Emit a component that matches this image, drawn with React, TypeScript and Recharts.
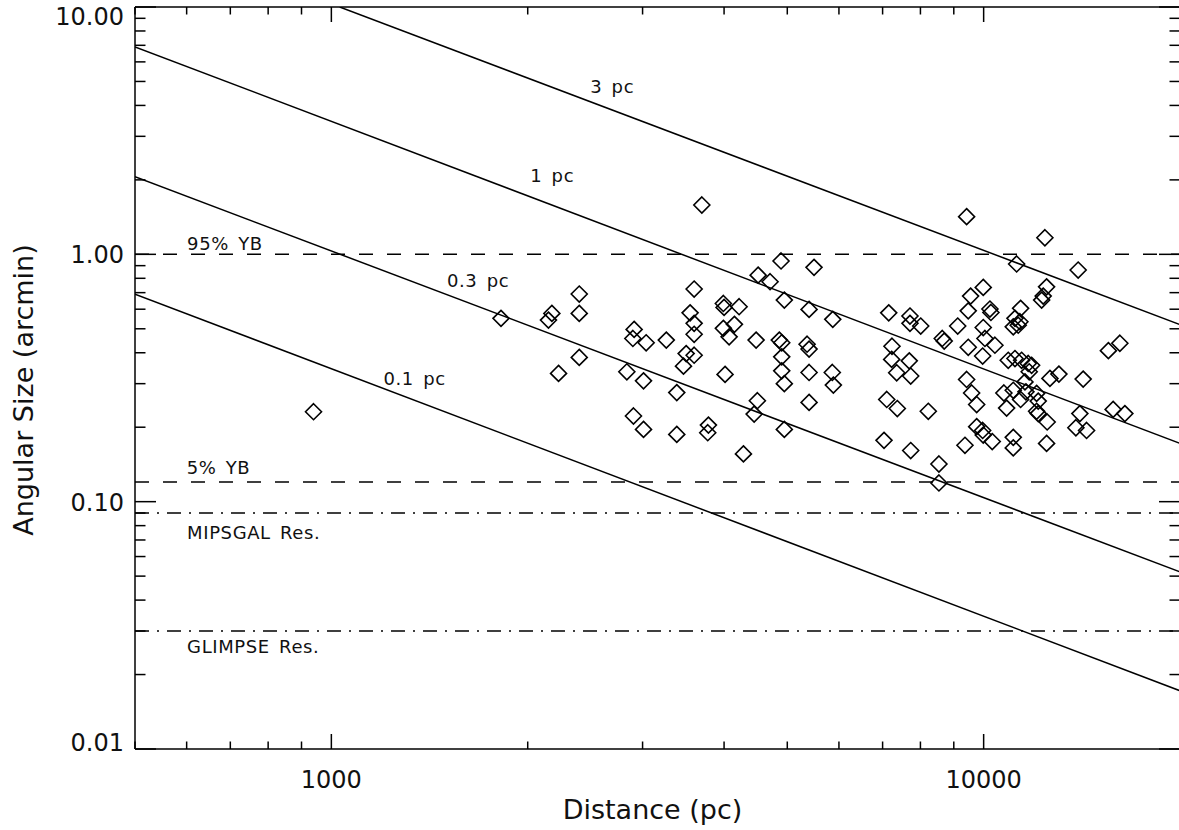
import { ScatterChart, Scatter, XAxis, YAxis, ReferenceLine } from 'recharts';

// source distances (pc) and angular sizes (arcmin)
const distances = [
  939, 1820, 2152, 2178, 2230, 2399, 2399, 2399, 2838, 2912,
  2899, 3010, 3038, 2905, 3010, 3262, 3385, 3385, 3466, 3499,
  3548, 3599, 3599, 3599, 3599, 3698, 3785, 3776, 3990, 4000,
  3990, 4014, 4072, 4149, 4218, 4283, 4448, 4479, 4499, 4511,
  4705, 4861, 4903, 4891, 4903, 4903, 4948, 4948, 4948, 5362,
  5400, 5400, 5400, 5400, 5495, 5871, 5861, 5883, 7035, 7103,
  7153, 7236, 7228, 7357, 7373, 7691, 7710, 7710, 7730, 7730,
  8008, 8225, 8540, 8540, 8641, 8701, 9125, 9362, 9417, 9417,
  9471, 9471, 9550, 9585, 9757, 9757, 9965, 9986, 10308, 9965,
  9986, 9986, 10046, 10224, 10260, 10406, 10741, 11235, 12414, 13961,
  12488, 12340, 12272, 11394, 11169, 11365, 11102, 11298, 16174, 15532,
  10907, 11169, 11434, 11704, 11845, 11745, 12636, 13043, 14210, 11570,
  11102, 11394, 11610, 12056, 12125, 10845, 12056, 12125, 12514, 14045,
  13849, 14381, 15795, 16463, 11102, 11102, 12488,
];

const sizes = [
  0.231, 0.551, 0.542, 0.577, 0.330, 0.691, 0.577, 0.383, 0.335, 0.497,
  0.457, 0.308, 0.439, 0.222, 0.196, 0.450, 0.276, 0.187, 0.353, 0.397,
  0.580, 0.724, 0.526, 0.475, 0.391, 1.583, 0.204, 0.190, 0.633, 0.610,
  0.502, 0.327, 0.464, 0.521, 0.614, 0.156, 0.226, 0.450, 0.256, 0.824,
  0.775, 0.450, 0.439, 0.940, 0.385, 0.338, 0.653, 0.300, 0.196, 0.433,
  0.414, 0.599, 0.333, 0.252, 0.886, 0.546, 0.333, 0.296, 0.177, 0.259,
  0.580, 0.425, 0.376, 0.332, 0.238, 0.371, 0.563, 0.526, 0.322, 0.161,
  0.513, 0.232, 0.142, 0.119, 0.457, 0.446, 0.513, 0.169, 1.420, 0.312,
  0.591, 0.421, 0.678, 0.275, 0.247, 0.201, 0.194, 0.186, 0.175, 0.388,
  0.735, 0.506, 0.457, 0.601, 0.582, 0.429, 0.275, 0.914, 1.167, 0.864,
  0.739, 0.678, 0.653, 0.605, 0.551, 0.534, 0.509, 0.517, 0.437, 0.408,
  0.373, 0.379, 0.373, 0.362, 0.356, 0.335, 0.315, 0.328, 0.313, 0.305,
  0.282, 0.259, 0.278, 0.274, 0.255, 0.239, 0.232, 0.227, 0.210, 0.227,
  0.199, 0.194, 0.236, 0.227, 0.182, 0.165, 0.172,
];

// constant physical size lines: endpoints
const sizeLines = [
  { name: '3 pc', from: [1030, 10.0], to: [20000, 0.52] },
  { name: '1 pc', from: [500, 6.9], to: [20000, 0.172] },
  { name: '0.3 pc', from: [500, 2.06], to: [20000, 0.052] },
  { name: '0.1 pc', from: [500, 0.69], to: [20000, 0.0172] },
];

// horizontal limits
const dashedLimits = [1.0, 0.12];
const dashDotLimits = [0.09, 0.03];

// text annotations (distance, arcmin at the text baseline)
const annotations = [
  { d: 2494, a: 4.48, label: '3 pc' },
  { d: 2018, a: 1.97, label: '1 pc' },
  { d: 601, a: 1.04, label: '95% YB' },
  { d: 1504, a: 0.739, label: '0.3 pc' },
  { d: 1202, a: 0.296, label: '0.1 pc' },
  { d: 600, a: 0.1296, label: '5% YB' },
  { d: 601, a: 0.0707, label: 'MIPSGAL Res.' },
  { d: 601, a: 0.0244, label: 'GLIMPSE Res.' },
];

const xTicks = [500, 600, 700, 800, 900, 1000, 2000, 3000, 4000, 5000, 6000, 7000, 8000, 9000, 10000, 20000];
const yTicks = [
  0.01, 0.02, 0.03, 0.04, 0.05, 0.06, 0.07, 0.08, 0.09,
  0.1, 0.2, 0.3, 0.4, 0.5, 0.6, 0.7, 0.8, 0.9,
  1, 2, 3, 4, 5, 6, 7, 8, 9, 10,
];

const points = distances.map((d, i) => ({ d, a: sizes[i] }));

const FONT = '"DejaVu Sans", sans-serif';
const INK = '#000';

const isMajor = (v: number) => {
  const l = Math.log10(v);
  return Math.abs(l - Math.round(l)) < 1e-6;
};

function BottomTick({ x, y, payload }: any) {
  const major = isMajor(payload.value);
  return (
    <g>
      <line x1={x} y1={y} x2={x} y2={y - (major ? 15 : 7.5)} stroke={INK} strokeWidth={1.5} />
      {major && (
        <text x={x} y={y + 39} textAnchor="middle" fontSize={24} fontFamily={FONT} fill="#111">
          {payload.value}
        </text>
      )}
    </g>
  );
}

function TopTick({ x, y, payload }: any) {
  const major = isMajor(payload.value);
  return <line x1={x} y1={y} x2={x} y2={y + (major ? 15 : 7.5)} stroke={INK} strokeWidth={1.5} />;
}

function LeftTick({ x, y, payload }: any) {
  const major = isMajor(payload.value);
  const base = Math.min(Math.max(y + 9, 25), 751);
  return (
    <g>
      <line x1={x} y1={y} x2={x + (major ? 21 : 10.5)} y2={y} stroke={INK} strokeWidth={1.5} />
      {major && (
        <text x={x - 11} y={base} textAnchor="end" fontSize={24} fontFamily={FONT} fill="#111">
          {payload.value.toFixed(2)}
        </text>
      )}
    </g>
  );
}

function RightTick({ x, y, payload }: any) {
  const major = isMajor(payload.value);
  return <line x1={x} y1={y} x2={x - (major ? 21 : 10.5)} y2={y} stroke={INK} strokeWidth={1.5} />;
}

const Diamond = ({ cx, cy }: any) => (
  <polygon
    points={`${cx},${cy - 8} ${cx + 8},${cy} ${cx},${cy + 8} ${cx - 8},${cy}`}
    fill="none"
    stroke={INK}
    strokeWidth={1.6}
  />
);

const NoMark = () => <g />;

const Annotation = ({ cx, cy, payload }: any) => (
  <text x={cx} y={cy} fontSize={18} fontFamily={FONT} fill="#111" letterSpacing={0.6} wordSpacing={3}>
    {payload.label}
  </text>
);

const axisLine = { stroke: INK, strokeWidth: 1.5 };

export default function App() {
  return (
    <div style={{ position: 'absolute', left: 0, top: 0, width: 1179, height: 830, overflow: 'hidden', background: '#fff' }}>
      <ScatterChart width={1181} height={830} margin={{ top: 0, right: 0, bottom: 0, left: 0 }}>
        <XAxis
          dataKey="d"
          type="number"
          scale="log"
          domain={[500, 20000]}
          allowDataOverflow
          ticks={xTicks}
          interval={0}
          height={81}
          tickSize={0}
          tickMargin={0}
          tickLine={false}
          axisLine={axisLine}
          tick={<BottomTick />}
          label={{
            content: ({ viewBox }: any) => (
              <text
                x={viewBox.x + viewBox.width / 2 - 5}
                y={viewBox.y + 70}
                textAnchor="middle"
                fontSize={27}
                fontFamily={FONT}
                fill="#111"
              >
                Distance (pc)
              </text>
            ),
          }}
        />
        <XAxis
          xAxisId="top"
          orientation="top"
          dataKey="d"
          type="number"
          scale="log"
          domain={[500, 20000]}
          allowDataOverflow
          ticks={xTicks}
          interval={0}
          height={7}
          tickSize={0}
          tickMargin={0}
          tickLine={false}
          axisLine={axisLine}
          tick={<TopTick />}
        />
        <YAxis
          dataKey="a"
          type="number"
          scale="log"
          domain={[0.01, 10]}
          allowDataOverflow
          ticks={yTicks}
          interval={0}
          width={135}
          tickSize={0}
          tickMargin={0}
          tickLine={false}
          axisLine={axisLine}
          tick={<LeftTick />}
          label={{
            content: ({ viewBox }: any) => {
              const cx = viewBox.x + 33;
              const cy = viewBox.y + viewBox.height / 2 + 12;
              return (
                <text
                  x={cx}
                  y={cy}
                  transform={`rotate(-90 ${cx} ${cy})`}
                  textAnchor="middle"
                  fontSize={27}
                  fontFamily={FONT}
                  fill="#111"
                >
                  Angular Size (arcmin)
                </text>
              );
            },
          }}
        />
        <YAxis
          yAxisId="right"
          orientation="right"
          dataKey="a"
          type="number"
          scale="log"
          domain={[0.01, 10]}
          allowDataOverflow
          ticks={yTicks}
          interval={0}
          width={1}
          tickSize={0}
          tickMargin={0}
          tickLine={false}
          axisLine={axisLine}
          tick={<RightTick />}
        />

        {dashedLimits.map((v) => (
          <ReferenceLine key={`d${v}`} y={v} stroke={INK} strokeWidth={1.5} strokeDasharray="14 14" />
        ))}
        {dashDotLimits.map((v) => (
          <ReferenceLine key={`dd${v}`} y={v} stroke={INK} strokeWidth={1.5} strokeDasharray="14 8 2 8" />
        ))}

        {sizeLines.map((s) => (
          <Scatter
            key={s.name}
            name={s.name}
            data={[
              { d: s.from[0], a: s.from[1] },
              { d: s.to[0], a: s.to[1] },
            ]}
            line={{ stroke: INK, strokeWidth: 1.5 }}
            shape={<NoMark />}
            isAnimationActive={false}
          />
        ))}

        <Scatter name="sources" data={points} shape={<Diamond />} isAnimationActive={false} />
        <Scatter name="labels" data={annotations} shape={<Annotation />} isAnimationActive={false} />
      </ScatterChart>
    </div>
  );
}
